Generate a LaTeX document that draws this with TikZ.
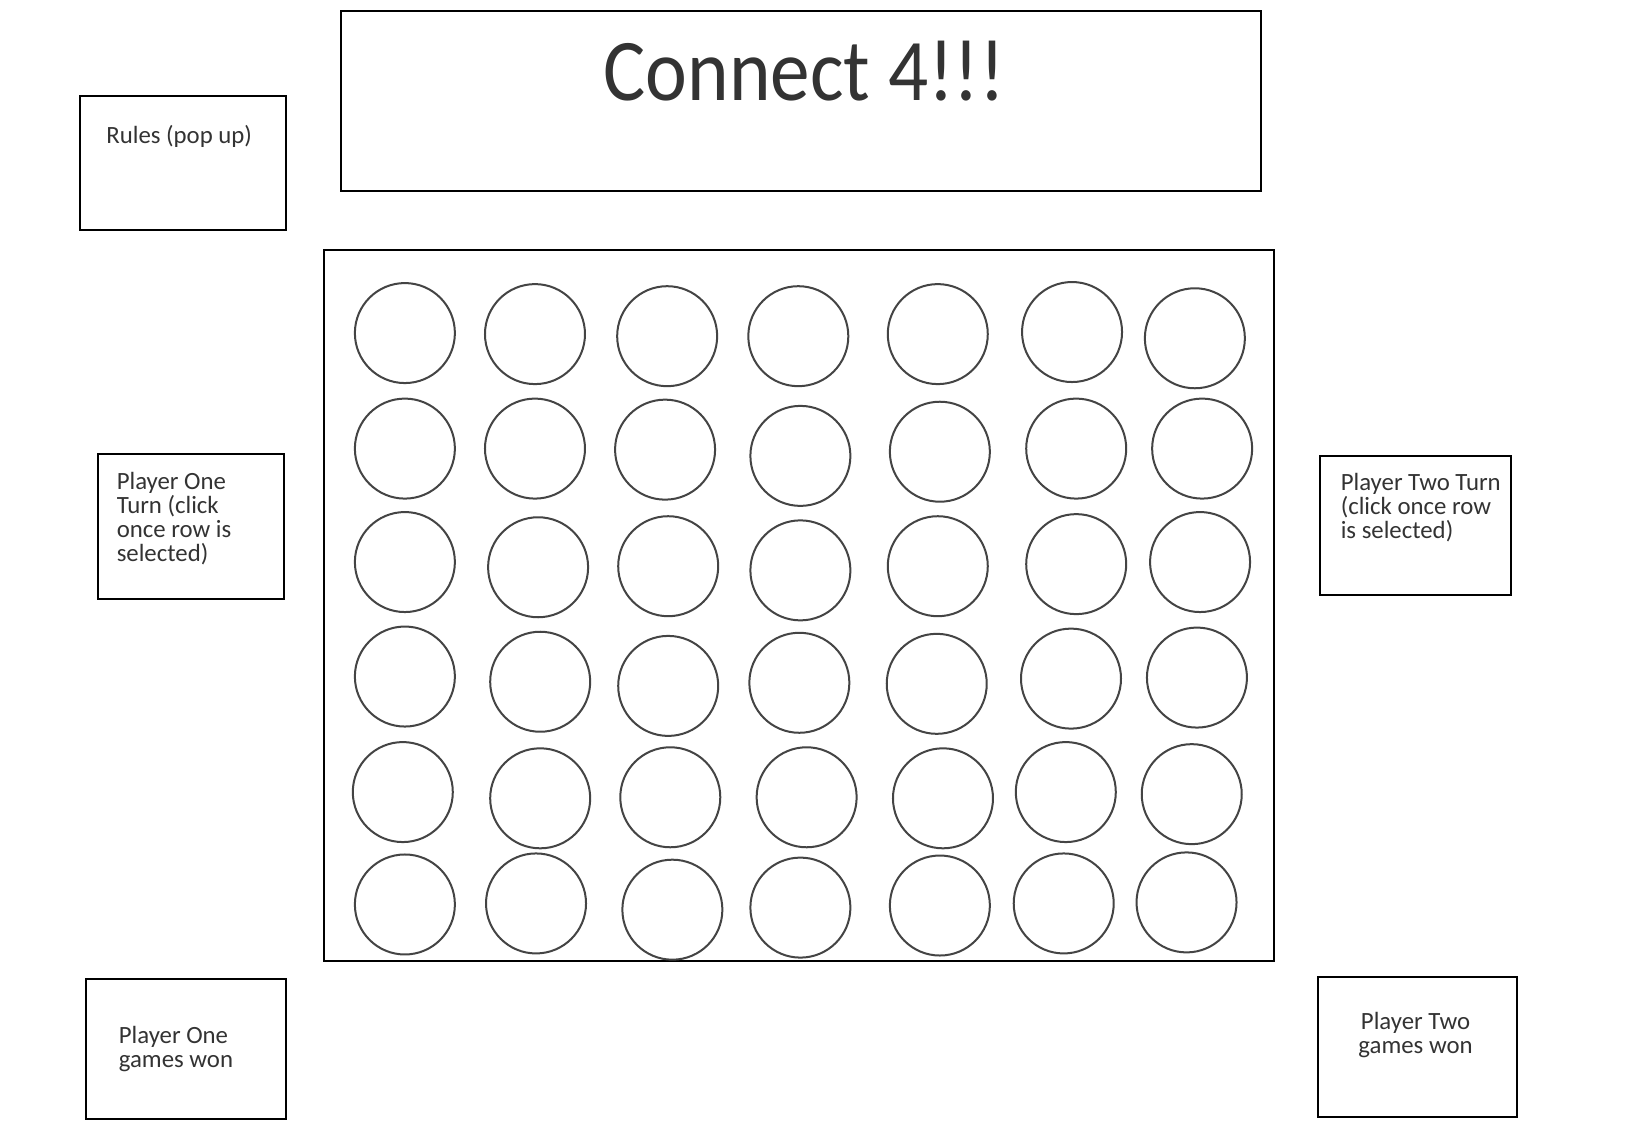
\documentclass[tikz,border=0pt]{standalone}
\usepackage{fontspec}
\setmainfont{Carlito}
\newfontfamily\titlefont[FakeStretch=0.9]{Carlito}
\definecolor{txt}{HTML}{333333}
\definecolor{ring}{HTML}{444444}
\begin{document}
\begin{tikzpicture}[x=1.0408pt,y=-1.0408pt,
  box/.style={draw=black,line width=2pt,inner sep=0pt,anchor=north west},
  hole/.style={circle,draw=ring,line width=2pt,minimum size=100pt,inner sep=0pt},
  lbl/.style={text=txt,inner sep=0pt,font=\fontsize{24.8}{24}\selectfont,align=left,anchor=base west},
  title/.style={text=txt,inner sep=0pt,font=\titlefont\fontsize{88}{90}\selectfont,anchor=base}]
\useasboundingbox (0,0) rectangle (1568,1093);
\fill[white] (0,0) rectangle (1568,1093);
% boxes
\node[box,minimum width=884*1.0408pt,minimum height=173*1.0408pt] (titlebox) at (327,10) {};
\node[box,minimum width=198*1.0408pt,minimum height=129*1.0408pt] (rules) at (76,91) {};
\node[box,minimum width=913*1.0408pt,minimum height=683*1.0408pt] (board) at (310,239) {};
\node[box,minimum width=179*1.0408pt,minimum height=140*1.0408pt] (p1turn) at (93,435) {};
\node[box,minimum width=184*1.0408pt,minimum height=134*1.0408pt] (p2turn) at (1267,437) {};
\node[box,minimum width=192*1.0408pt,minimum height=134*1.0408pt] (p1won) at (82,940) {};
\node[box,minimum width=192*1.0408pt,minimum height=134*1.0408pt] (p2won) at (1265,938) {};
% texts (base anchor = baseline of last line)
\node[title] (titletext) at (773,97) {Connect 4!!!};
\node[lbl] (rulestext) at (102,138) {Rules (pop up)};
\node[lbl] (p1turntext) at (112,539) {Player One\\Turn (click\\once row is\\selected)};
\node[lbl] (p2turntext) at (1288,517) {Player Two Turn\\(click once row\\is selected)};
\node[lbl] (p1wontext) at (114,1026) {Player One\\games won};
\node[lbl,align=center,anchor=base] (p2wontext) at (1360,1012) {Player Two\\games won};
% holes
\foreach \r/\row in {1/{389/320,514/321,641/323,767/323,901/321,1030/319,1148/325},
                     2/{389/431,514/431,639/432,769/438,903/434,1034/431,1155/431},
                     3/{389/540,517/545,642/544,769/548,901/544,1034/542,1153/540},
                     4/{389/650,519/655,642/659,768/656,900/657,1029/652,1150/651},
                     5/{387/761,519/767,644/766,775/766,906/767,1024/761,1145/763},
                     6/{389/869,515/868,646/874,769/872,903/870,1022/868,1140/867}}{
  \foreach \cx/\cy [count=\c] in \row {
    \node[hole] (h-\r-\c) at (\cx,\cy) {};
  }
}
\end{tikzpicture}
\end{document}
